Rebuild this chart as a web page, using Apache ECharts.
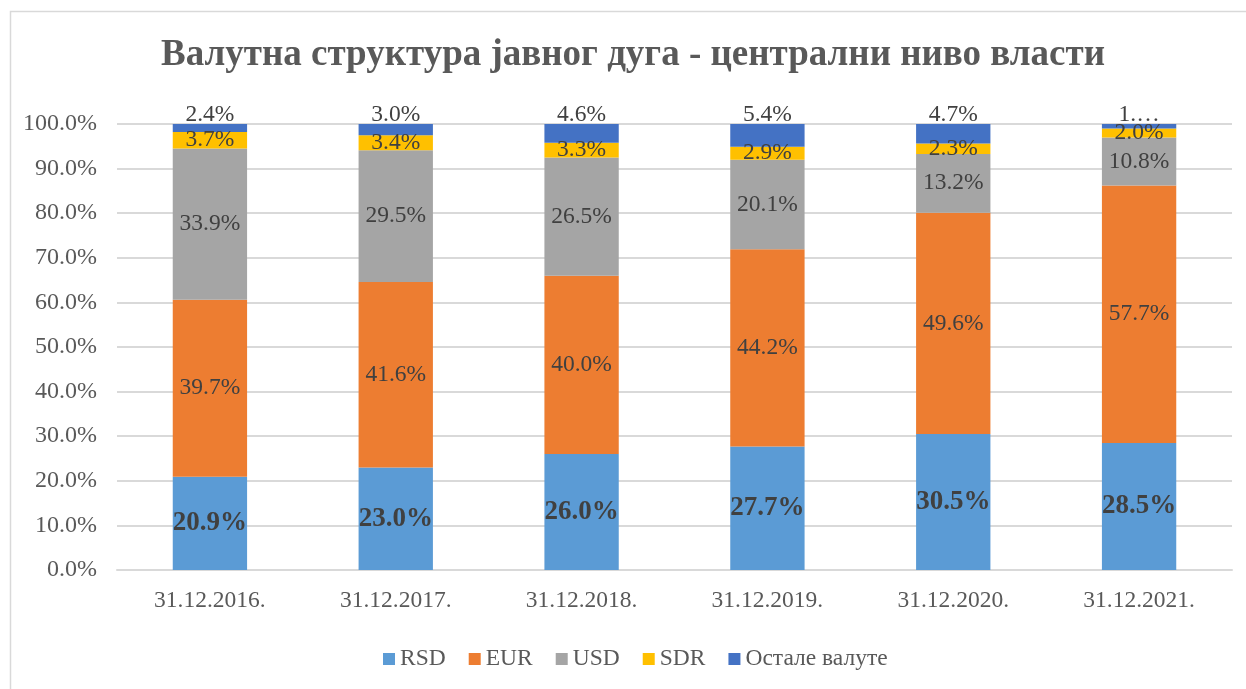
<!DOCTYPE html>
<html>
<head>
<meta charset="utf-8">
<script src="https://cdn.jsdelivr.net/npm/echarts@6/dist/echarts.min.js"></script>
<style>
  html, body { margin: 0; padding: 0; background: #fff; }
  #chart { width: 1246px; height: 689px; }
</style>
</head>
<body>
<div id="chart"></div>
<script>
  // dates on the x axis
  var categories = ['31.12.2016.', '31.12.2017.', '31.12.2018.', '31.12.2019.', '31.12.2020.', '31.12.2021.'];

  // shares in percent
  var rsd = [20.9, 23.0, 26.0, 27.7, 30.5, 28.5];
  var eur = [39.7, 41.6, 40.0, 44.2, 49.6, 57.7];
  var usd = [33.9, 29.5, 26.5, 20.1, 13.2, 10.8];
  var sdr = [3.7, 3.4, 3.3, 2.9, 2.3, 2.0];
  var other = [2.4, 3.0, 4.6, 5.4, 4.7, 1.0];
  // last label is cut off in the original
  var otherLabels = ['2.4%', '3.0%', '4.6%', '5.4%', '4.7%', '1.…'];

  var yTicks = { min: 0, max: 100, step: 10 };

  var font = "'Liberation Serif', 'Times New Roman', serif";
  var labelColor = '#404040';

  function pct (p) {
    return p.value.toFixed(1) + '%';
  }

  function makeSeries (name, data, color, label) {
    return {
      name: name,
      type: 'bar',
      stack: 'total',
      barWidth: '40%',
      data: data,
      itemStyle: { color: color },
      label: label
    };
  }

  var plainLabel = {
    show: true,
    position: 'inside',
    color: labelColor,
    fontFamily: font,
    fontSize: 23.5,
    formatter: pct
  };

  var chart = echarts.init(document.getElementById('chart'));

  var option = {
    backgroundColor: '#fff',
    animation: false,
    title: {
      text: 'Валутна структура јавног дуга - централни ниво власти',
      left: 156,
      top: 32,
      textStyle: {
        fontFamily: font,
        fontSize: 37,
        fontWeight: 'bold',
        color: '#595959'
      }
    },
    graphic: [{
      type: 'rect',
      left: 8,
      top: 9,
      shape: { width: 1400, height: 800 },
      style: { fill: 'none', stroke: '#d9d9d9', lineWidth: 1.5 },
      silent: true
    }],
    legend: {
      bottom: 13,
      left: 378,
      itemWidth: 12,
      itemHeight: 12,
      itemGap: 23,
      icon: 'rect',
      textStyle: { fontFamily: font, fontSize: 23.5, color: '#595959' },
      data: ['RSD', 'EUR', 'USD', 'SDR', 'Остале валуте']
    },
    grid: {
      left: 117,
      right: 14,
      top: 124,
      bottom: 119
    },
    xAxis: {
      type: 'category',
      data: categories,
      axisLine: { lineStyle: { color: '#d9d9d9', width: 2 } },
      axisTick: { show: false },
      axisLabel: {
        margin: 19,
        fontFamily: font,
        fontSize: 23.5,
        color: '#595959'
      }
    },
    yAxis: {
      type: 'value',
      min: yTicks.min,
      max: yTicks.max,
      interval: yTicks.step,
      axisLine: { show: false },
      axisTick: { show: false },
      splitLine: { lineStyle: { color: '#d9d9d9', width: 2 } },
      axisLabel: {
        margin: 20,
        fontFamily: font,
        fontSize: 24,
        color: '#595959',
        formatter: function (v) { return v.toFixed(1) + '%'; }
      }
    },
    series: [
      makeSeries('RSD', rsd, '#5b9bd5', {
        show: true,
        position: 'inside',
        color: labelColor,
        fontFamily: font,
        fontSize: 27,
        fontWeight: 'bold',
        formatter: pct
      }),
      makeSeries('EUR', eur, '#ed7d31', plainLabel),
      makeSeries('USD', usd, '#a5a5a5', plainLabel),
      makeSeries('SDR', sdr, '#ffc000', plainLabel),
      makeSeries('Остале валуте', other, '#4472c4', {
        show: true,
        position: 'top',
        distance: -3,
        color: labelColor,
        fontFamily: font,
        fontSize: 23.5,
        formatter: function (p) { return otherLabels[p.dataIndex]; }
      })
    ]
  };

  chart.setOption(option);
</script>
</body>
</html>
